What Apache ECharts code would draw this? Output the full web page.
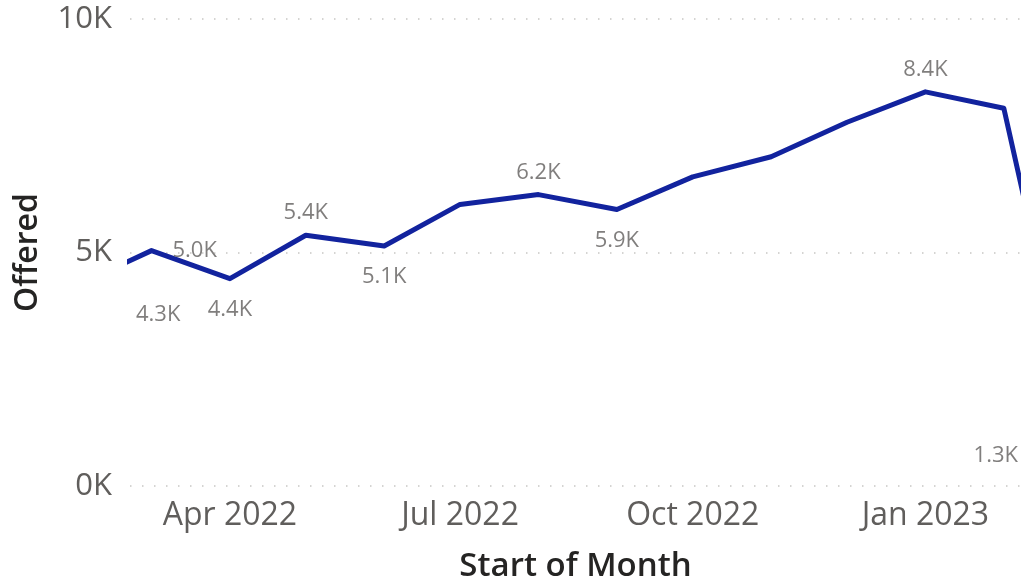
<!DOCTYPE html>
<html>
<head>
<meta charset="utf-8">
<script src="https://cdn.jsdelivr.net/npm/echarts@6/dist/echarts.min.js"></script>
<style>
html,body{margin:0;padding:0;background:#fff;}
#chart{width:1021px;height:584px;}
</style>
</head>
<body>
<div id="chart"></div>
<script>
// ---- data ----
var months = ['2022-02-01','2022-03-01','2022-04-01','2022-05-01','2022-06-01','2022-07-01','2022-08-01','2022-09-01','2022-10-01','2022-11-01','2022-12-01','2023-01-01','2023-02-01','2023-03-01'];
var offered = [4340, 5040, 4440, 5370, 5140, 6030, 6240, 5920, 6620, 7050, 7790, 8440, 8090, 1320];
// which points carry a data label, and where
var labelPos = ['bottom','right','bottom','top','bottom',null,'top','bottom',null,null,null,'top',null,'bottom'];
var xTickDates = ['2022-04-01','2022-07-01','2022-10-01','2023-01-01'];
var yTicks = [0, 5000, 10000];
var xMinDate = '2022-02-20 12:00:00';
var xMaxDate = '2023-02-07 19:00:00';
var monthNames = ['Jan','Feb','Mar','Apr','May','Jun','Jul','Aug','Sep','Oct','Nov','Dec'];

var W = 1021, GRID_LEFT = 130;
var FONT = '"Open Sans", "Noto Sans", sans-serif';

function kfmt(v){ return (v/1000).toFixed(1) + 'K'; }
function parseDate(s){
  var p = s.split(/[- :]/).map(Number);
  return new Date(p[0], p[1]-1, p[2], p[3]||0, p[4]||0, p[5]||0).getTime();
}

var lineData = months.map(function(m, i){ return [parseDate(m), offered[i]]; });
var labelData = months.map(function(m, i){
  var pos = labelPos[i];
  var item = { value: [parseDate(m), offered[i]] };
  if (pos === 'top') {
    item.label = { show: true, position: 'top', distance: 11 };
  } else if (pos === 'bottom') {
    item.label = { show: true, position: 'bottom', distance: 20 };
  } else if (pos === 'right') {
    item.label = { show: true, position: 'right', distance: 21, offset: [0, 4] };
  } else {
    item.label = { show: false };
  }
  return item;
});

var chart = echarts.init(document.getElementById('chart'), null, {renderer: 'canvas'});
chart.setOption({
  animation: false,
  backgroundColor: '#ffffff',
  grid: { left: GRID_LEFT, right: 0, top: 19, bottom: 98, containLabel: false, outerBoundsMode: 'none' },
  xAxis: {
    type: 'value',
    min: parseDate(xMinDate),
    max: parseDate(xMaxDate),
    name: 'Start of Month',
    nameLocation: 'middle',
    nameGap: 64,
    nameTextStyle: { fontFamily: FONT, fontSize: 33, fontWeight: 600, color: '#252423' },
    axisLine: { show: false },
    axisTick: { show: false },
    splitLine: { show: false },
    axisLabel: {
      customValues: xTickDates.map(parseDate),
      fontFamily: FONT, fontSize: 32, color: '#605E5C', margin: 14,
      formatter: function(v){ var d = new Date(v); return monthNames[d.getMonth()] + ' ' + d.getFullYear(); }
    }
  },
  yAxis: {
    type: 'value',
    min: yTicks[0], max: yTicks[yTicks.length-1], interval: yTicks[1]-yTicks[0],
    name: 'Offered',
    nameLocation: 'middle',
    nameGap: 86,
    nameRotate: 90,
    nameTextStyle: { fontFamily: FONT, fontSize: 32, fontWeight: 600, color: '#252423' },
    axisLine: { show: false },
    axisTick: { show: false },
    axisLabel: {
      fontFamily: FONT, fontSize: 31, color: '#605E5C', margin: 18,
      formatter: function(v){ return (v/1000) + 'K'; }
    },
    splitLine: { show: true, lineStyle: { color: '#C8C6C4', width: 1.5, type: [1.5, 10.5] } }
  },
  series: [
    {
      type: 'line',
      data: lineData,
      showSymbol: false,
      symbol: 'none',
      clip: true,
      lineStyle: { color: '#12239E', width: 5, join: 'round' },
      itemStyle: { color: '#12239E' },
      silent: true,
      z: 3
    },
    {
      type: 'scatter',
      data: labelData,
      symbolSize: 0,
      clip: false,
      silent: true,
      itemStyle: { color: 'rgba(0,0,0,0)' },
      label: {
        fontFamily: FONT, fontSize: 22, color: '#605E5C',
        formatter: function(p){ return kfmt(p.value[1]); }
      },
      labelLayout: function(p){
        var r = p.labelRect, dx = 0;
        if (r.x < GRID_LEFT + 6) dx = GRID_LEFT + 6 - r.x;
        if (r.x + r.width > W - 3) dx = (W - 3) - (r.x + r.width);
        return { dx: dx };
      },
      z: 4
    }
  ]
});
</script>
</body>
</html>
